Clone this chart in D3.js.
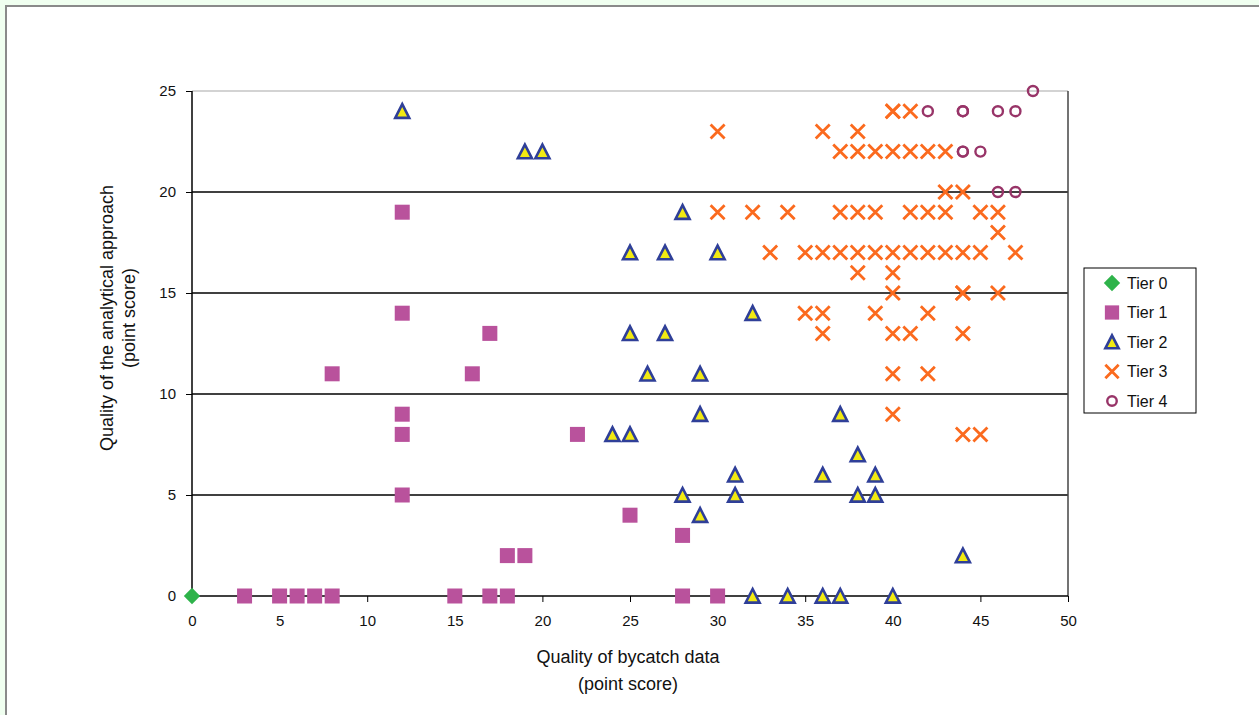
<!DOCTYPE html>
<html><head><meta charset="utf-8">
<script src="https://cdn.jsdelivr.net/npm/d3@7"></script>
<style>body{margin:0;background:#f0fff0;overflow:hidden}text{font-family:Arial,"Liberation Sans",sans-serif;fill:#111}</style>
</head><body>
<svg id="c" width="1259" height="715"></svg>
<script>
const tierNames = ["Tier 0","Tier 1","Tier 2","Tier 3","Tier 4"];
const tier0 = [[0,0]];
const tier1 = [[3,0],[5,0],[6,0],[7,0],[8,0],[8,11],[12,19],[12,14],[12,9],[12,8],[12,5],[15,0],[16,11],[17,13],[17,0],[18,0],[18,2],[19,2],[22,8],[25,4],[28,3],[28,0],[30,0]];
const tier2 = [[12,24],[19,22],[20,22],[28,19],[25,17],[27,17],[30,17],[25,13],[27,13],[32,14],[26,11],[29,11],[29,9],[24,8],[25,8],[37,9],[31,6],[31,5],[28,5],[29,4],[36,6],[38,7],[39,6],[38,5],[39,5],[44,2],[32,0],[34,0],[36,0],[37,0],[40,0]];
const tier3 = [[30,23],[36,23],[38,23],[40,24],[40,24],[41,24],
  [37,22],[38,22],[39,22],[40,22],[41,22],[42,22],[43,22],
  [43,20],[44,20],
  [30,19],[32,19],[34,19],[37,19],[38,19],[39,19],[41,19],[42,19],[43,19],[45,19],[46,19],
  [46,18],
  [33,17],[35,17],[36,17],[37,17],[38,17],[39,17],[40,17],[41,17],[42,17],[43,17],[44,17],[45,17],[47,17],
  [38,16],[40,16],
  [40,15],[44,15],[44,15],[46,15],
  [35,14],[36,14],[39,14],[42,14],
  [36,13],[40,13],[41,13],[44,13],
  [40,11],[42,11],[40,9],[44,8],[45,8]];
const tier4 = [[42,24],[44,24],[44,24],[46,24],[47,24],[48,25],[44,22],[44,22],[45,22],[46,20],[47,20]];
const xTicks = [0,5,10,15,20,25,30,35,40,45,50];
const yTicks = [0,5,10,15,20,25];

const svg = d3.select("#c");
svg.append("rect").attr("x",6).attr("y",6).attr("width",1300).attr("height",800)
  .attr("fill","#fff").attr("stroke","#8a8a8a").attr("stroke-width",2);

const L=192,R=1068,T=91,B=596;
const x = d3.scaleLinear().domain([0,50]).range([L,R]);
const y = d3.scaleLinear().domain([0,25]).range([B,T]);

svg.append("g").selectAll("line").data(yTicks.filter(d=>d>0&&d<25)).join("line")
  .attr("x1",L).attr("x2",R).attr("y1",d=>y(d)).attr("y2",d=>y(d))
  .attr("stroke","#000").attr("stroke-width",1.3);
svg.append("line").attr("x1",L).attr("x2",R).attr("y1",y(25)).attr("y2",y(25)).attr("stroke","#c4c4c4").attr("stroke-width",1.5);
svg.append("line").attr("x1",R).attr("x2",R).attr("y1",T).attr("y2",B).attr("stroke","#444").attr("stroke-width",1.5);

const yAxis = d3.axisLeft(y).tickValues(yTicks).tickSize(6).tickPadding(10);
const gy = svg.append("g").attr("transform",`translate(${L},0)`).call(yAxis);
const xAxis = d3.axisBottom(x).tickValues(xTicks).tickSize(6).tickPadding(13);
const gx = svg.append("g").attr("transform",`translate(0,${B})`).call(xAxis);
[gx,gy].forEach(g=>{
  g.select(".domain").attr("stroke","#000").attr("stroke-width",1.5);
  g.selectAll(".tick line").attr("stroke","#000").attr("stroke-width",1);
  g.selectAll(".tick text").style("font-family","Arial, 'Liberation Sans', sans-serif").style("font-size","15px").attr("fill","#111");
});
gx.select(".domain").attr("d",`M${L},0H${R}`);
gy.select(".domain").attr("d",`M0,${B}V${T}`);

svg.append("text").attr("x",628).attr("y",663).attr("text-anchor","middle").style("font-size","18px").text("Quality of bycatch data");
svg.append("text").attr("x",628).attr("y",690).attr("text-anchor","middle").style("font-size","18px").text("(point score)");
svg.append("text").attr("transform","translate(113,318) rotate(-90)").attr("text-anchor","middle").style("font-size","18px").text("Quality of the analytical approach");
svg.append("text").attr("transform","translate(135,318) rotate(-90)").attr("text-anchor","middle").style("font-size","18px").text("(point score)");

const col = {sq:"#b9529c", triS:"#2f3f98", triF:"#f2ea12", x:"#fb6a1e", c:"#983468", d:"#2eb34a"};
function drawMarker(g, tier, cx, cy, s){
  s = s||1;
  if(tier===0){
    g.append("rect").attr("x",cx-5.8*s).attr("y",cy-5.8*s).attr("width",11.6*s).attr("height",11.6*s)
      .attr("transform",`rotate(45,${cx},${cy})`).attr("fill",col.d);
  } else if(tier===1){
    g.append("rect").attr("x",cx-7.5*s).attr("y",cy-7.5*s).attr("width",15*s).attr("height",15*s).attr("fill",col.sq);
  } else if(tier===2){
    const h=7*s;
    g.append("path").attr("d",`M${cx},${cy-h}L${cx+h},${cy+h*0.95}L${cx-h},${cy+h*0.95}Z`)
      .attr("fill",col.triF).attr("stroke",col.triS).attr("stroke-width",2.6).attr("stroke-linejoin","miter");
  } else if(tier===3){
    const h=7*s;
    g.append("path").attr("d",`M${cx-h},${cy-h}L${cx+h},${cy+h}M${cx+h},${cy-h}L${cx-h},${cy+h}`)
      .attr("stroke",col.x).attr("stroke-width",2.8).attr("fill","none");
  } else {
    g.append("circle").attr("cx",cx).attr("cy",cy).attr("r",5*s).attr("fill","none").attr("stroke",col.c).attr("stroke-width",2.4);
  }
}
const series=[tier0,tier1,tier2,tier3,tier4];
const pg = svg.append("g");
[1,2,3,4,0].forEach(t=>{
  series[t].forEach(d=>drawMarker(pg,t,x(d[0]),y(d[1])));
});

const lg = svg.append("g");
lg.append("rect").attr("x",1084).attr("y",268).attr("width",112).attr("height",145).attr("fill","#fff").attr("stroke","#000").attr("stroke-width",1);
tierNames.forEach((n,i)=>{
  const ly = 283 + i*29.5;
  drawMarker(lg,i,1112,ly, i===0?1.0:0.95);
  lg.append("text").attr("x",1127).attr("y",ly+5.5).style("font-size","16px").text(n);
});
</script>
</body></html>
